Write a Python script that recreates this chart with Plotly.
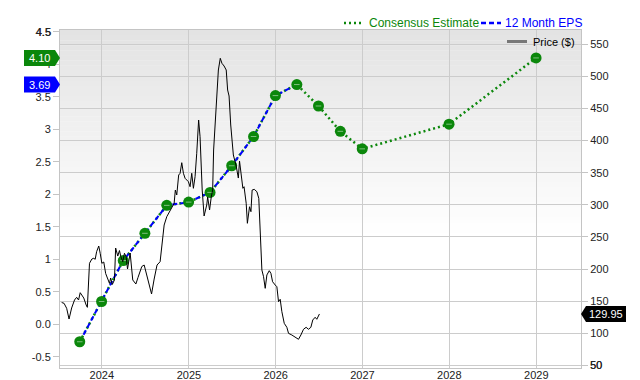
import plotly.graph_objects as go

# ---------------- data ----------------
quarter_dates = ['2023-09-30', '2023-12-31', '2024-03-31', '2024-06-30', '2024-09-30',
                 '2024-12-31', '2025-03-31', '2025-06-30', '2025-09-30', '2025-12-31',
                 '2026-03-31', '2026-06-30', '2026-09-30', '2026-12-31', '2027-12-31',
                 '2028-12-31']
consensus = [-0.27, 0.35, 0.98, 1.40, 1.83, 1.88, 2.03, 2.44, 2.89, 3.52,
             3.69, 3.36, 2.97, 2.70, 3.08, 4.10]
eps_dates = quarter_dates[:11]
eps_12m = [-0.27, 0.35, 0.98, 1.40, 1.83, 1.88, 2.03, 2.44, 2.89, 3.52, 3.69]

price_dates = [
    '2023-07-16', '2023-07-26', '2023-08-06', '2023-08-16', '2023-08-27', '2023-09-08',
    '2023-09-17', '2023-09-25', '2023-10-02', '2023-10-06', '2023-10-17', '2023-10-27',
    '2023-11-01', '2023-11-10', '2023-11-20', '2023-11-28', '2023-12-04', '2023-12-10',
    '2023-12-19', '2023-12-25', '2024-01-01', '2024-01-09', '2024-01-17', '2024-01-26',
    '2024-02-02', '2024-02-07', '2024-02-14', '2024-02-23', '2024-02-28', '2024-03-08',
    '2024-03-15', '2024-03-21', '2024-03-29', '2024-04-05', '2024-04-12', '2024-04-18',
    '2024-04-29', '2024-05-10', '2024-05-23', '2024-06-01', '2024-06-10', '2024-06-17',
    '2024-06-27', '2024-07-07', '2024-07-19', '2024-07-28', '2024-08-08', '2024-08-14',
    '2024-08-20', '2024-09-02', '2024-09-13', '2024-09-19', '2024-09-30', '2024-10-11',
    '2024-10-21', '2024-10-31', '2024-11-05', '2024-11-11', '2024-11-19', '2024-11-25',
    '2024-12-02', '2024-12-09', '2024-12-16', '2024-12-23', '2024-12-30', '2025-01-06',
    '2025-01-13', '2025-01-20', '2025-01-27', '2025-02-03', '2025-02-11', '2025-02-17',
    '2025-02-26', '2025-03-06', '2025-03-17', '2025-03-21', '2025-03-29', '2025-04-05',
    '2025-04-11', '2025-04-15', '2025-04-22', '2025-04-29', '2025-05-05', '2025-05-13',
    '2025-05-20', '2025-05-29', '2025-06-07', '2025-06-13', '2025-06-19', '2025-06-26',
    '2025-07-02', '2025-07-07', '2025-07-19', '2025-07-28', '2025-08-02', '2025-08-09',
    '2025-08-16', '2025-08-21', '2025-08-30', '2025-09-04', '2025-09-13', '2025-09-19',
    '2025-09-24', '2025-10-03', '2025-10-14', '2025-10-22', '2025-10-28', '2025-10-31',
    '2025-11-04', '2025-11-11', '2025-11-18', '2025-11-25', '2025-12-05', '2025-12-12',
    '2025-12-19', '2025-12-30', '2026-01-06', '2026-01-13', '2026-01-20', '2026-01-27',
    '2026-02-06', '2026-02-17', '2026-02-24', '2026-03-10', '2026-03-24', '2026-04-07',
    '2026-04-17', '2026-04-28', '2026-05-09', '2026-05-19', '2026-05-29', '2026-06-06',
    '2026-06-16', '2026-06-23', '2026-07-04']
price = [
    147.8, 146.6, 138.8, 122.1, 139.3, 151.7,
    155.9, 151.7, 163.1, 161.1, 154.8, 143.9,
    140.3, 208.9, 215.6, 216.7, 215.1, 227.0,
    235.8, 224.5, 208.9, 210.9, 193.0, 184.4,
    177.7, 186.0, 175.9, 182.9, 232.7, 220.2,
    228.8, 219.2, 211.4, 224.5, 219.5, 200.0,
    224.9, 182.9, 176.6, 186.8, 198.4, 203.9,
    206.2, 192.2, 175.1, 161.1, 184.4, 198.4,
    206.2, 211.4, 249.8, 268.5, 281.5, 289.3,
    294.5, 302.3, 323.0, 315.3, 346.4, 349.1,
    365.6, 349.1, 341.3, 338.6, 336.0, 328.2,
    349.1, 325.7, 343.8, 380.2, 432.1, 406.1,
    323.0, 282.6, 299.7, 312.1, 291.9, 312.1,
    323.0, 385.4, 432.1, 485.0, 510.0, 528.2,
    520.4, 516.2, 510.0, 478.8, 469.5, 424.3,
    393.1, 377.6, 360.4, 341.7, 368.2, 343.3,
    325.7, 328.2, 302.3, 271.2, 297.0, 289.3,
    323.0, 324.1, 320.4, 310.1, 265.9, 245.2,
    198.4, 188.0, 169.9, 190.7, 197.4, 193.3,
    180.2, 175.1, 172.4, 149.1, 152.8, 133.5,
    115.4, 109.2, 99.8, 97.2, 94.5, 90.5,
    97.2, 106.1, 109.2, 106.1, 109.2, 120.6,
    124.8, 121.7, 129.95]

year_ticks = ['2024-01-01', '2025-01-01', '2026-01-01', '2027-01-01', '2028-01-01', '2029-01-01']
year_labels = ['2024', '2025', '2026', '2027', '2028', '2029']
eps_ticks = [-0.5, 0.0, 0.5, 1.0, 1.5, 2.0, 2.5, 3.0, 3.5, 4.0, 4.5]
eps_tick_text = ['-0.5', '0.0', '0.5', '1', '1.5', '2', '2.5', '3', '3.5', '4', '4.5']
price_ticks = [50, 100, 150, 200, 250, 300, 350, 400, 450, 500, 550]
legend_names = ['Consensus Estimate', '12 Month EPS', 'Price ($)']

# ---------------- style ----------------
GREEN = '#0b870b'
BLUE = '#0000ff'
FONT = 'Liberation Sans, Arial, sans-serif'
TICK_COLOR = '#222222'
W, H = 640, 380
ML, MR, MT, MB = 60, 59, 30, 12
PW, PH = W - ML - MR, H - MT - MB


def px_x(px):
    return (px - ML) / PW


def px_y(py):
    return 1 - (py - MT) / PH


fig = go.Figure()

fig.add_trace(go.Scatter(
    x=price_dates, y=price, yaxis='y2', mode='lines',
    line=dict(color='#000000', width=1),
    name=legend_names[2], showlegend=False, hoverinfo='skip'))

fig.add_trace(go.Scatter(
    x=quarter_dates, y=consensus, mode='lines',
    line=dict(color=GREEN, width=2.5, dash='2px,3px'),
    name=legend_names[0], showlegend=False))

fig.add_trace(go.Scatter(
    x=eps_dates, y=eps_12m, mode='lines',
    line=dict(color=BLUE, width=2, dash='5px,3px'),
    name=legend_names[1], showlegend=False))

fig.add_trace(go.Scatter(
    x=quarter_dates, y=consensus, mode='markers',
    marker=dict(color=GREEN, size=11, line=dict(width=0)),
    showlegend=False))
fig.add_trace(go.Scatter(
    x=quarter_dates, y=consensus, mode='markers',
    marker=dict(symbol='line-ew', size=4, line=dict(color='#7fbf7f', width=1)),
    showlegend=False, hoverinfo='skip'))

# gradient background bands (top of plot area)
shapes = []
n = 40
for i in range(n):
    t = i / n
    g = int(round(0xe3 + (0xff - 0xe3) * t))
    col = 'rgb(%d,%d,%d)' % (g, g, g)
    shapes.append(dict(type='rect', xref='paper', yref='paper',
                       x0=0, x1=1, y0=1 - 0.6 * (i + 1) / n - 0.001, y1=1 - 0.6 * i / n,
                       fillcolor=col, line=dict(width=0), layer='below'))

# value badges
last_cons = consensus[-1]
last_eps = eps_12m[-1]
last_price = price[-1]
shapes.append(dict(type='path', xref='paper', xsizemode='pixel', xanchor=0,
                   yref='y', ysizemode='pixel', yanchor=last_cons,
                   path='M-36,-8 L-5,-8 L0,0 L-5,8 L-36,8 Z',
                   fillcolor=GREEN, line=dict(width=0), layer='above'))
shapes.append(dict(type='path', xref='paper', xsizemode='pixel', xanchor=0,
                   yref='y', ysizemode='pixel', yanchor=last_eps,
                   path='M-36,-8 L-5,-8 L0,0 L-5,8 L-36,8 Z',
                   fillcolor=BLUE, line=dict(width=0), layer='above'))
shapes.append(dict(type='path', xref='paper', xsizemode='pixel', xanchor=1,
                   yref='y2', ysizemode='pixel', yanchor=last_price,
                   path='M0,0 L5,-8 L45,-8 L45,8 L5,8 Z',
                   fillcolor='#000000', line=dict(width=0), layer='above'))

# legend symbols (manual legend)
ly1 = px_y(23)
shapes.append(dict(type='line', xref='paper', yref='paper', x0=px_x(344), x1=px_x(362),
                   y0=ly1, y1=ly1, line=dict(color=GREEN, width=2.5, dash='2px,3px')))
shapes.append(dict(type='line', xref='paper', yref='paper', x0=px_x(481), x1=px_x(501),
                   y0=ly1, y1=ly1, line=dict(color=BLUE, width=2.5, dash='5px,3px')))
ly2 = px_y(41.5)
shapes.append(dict(type='line', xref='paper', yref='paper', x0=px_x(507), x1=px_x(527),
                   y0=ly2, y1=ly2, line=dict(color='#777777', width=3)))

annotations = [
    dict(xref='paper', x=0, xshift=-21, xanchor='center', yref='y', y=last_cons,
         text='%.2f' % last_cons, showarrow=False,
         font=dict(color='white', size=11, family=FONT)),
    dict(xref='paper', x=0, xshift=-21, xanchor='center', yref='y', y=last_eps,
         text='%.2f' % last_eps, showarrow=False,
         font=dict(color='white', size=11, family=FONT)),
    dict(xref='paper', x=1, xshift=25, xanchor='center', yref='y2', y=last_price,
         text='%.2f' % last_price, showarrow=False,
         font=dict(color='white', size=11, family=FONT)),
    dict(xref='paper', x=px_x(367), xanchor='left', yref='paper', y=ly1, yanchor='middle',
         text=legend_names[0], showarrow=False,
         font=dict(color=GREEN, size=12, family=FONT)),
    dict(xref='paper', x=px_x(503), xanchor='left', yref='paper', y=ly1, yanchor='middle',
         text=legend_names[1], showarrow=False,
         font=dict(color=BLUE, size=12, family=FONT)),
    dict(xref='paper', x=px_x(531), xanchor='left', yref='paper', y=ly2, yanchor='middle',
         text=legend_names[2], showarrow=False,
         font=dict(color='#000000', size=11, family=FONT)),
    # end-of-axis tick labels that plotly drops at the very edge of the range
    dict(xref='paper', x=0, xshift=-7, xanchor='right', yref='y', y=eps_ticks[-1],
         text=eps_tick_text[-1], showarrow=False,
         font=dict(color=TICK_COLOR, size=11, family=FONT)),
    dict(xref='paper', x=1, xshift=7, xanchor='left', yref='y2', y=price_ticks[0],
         text=str(price_ticks[0]), showarrow=False,
         font=dict(color=TICK_COLOR, size=11, family=FONT)),
]

fig.update_layout(
    width=W, height=H,
    margin=dict(l=ML, r=MR, t=MT, b=MB),
    paper_bgcolor='white', plot_bgcolor='white',
    font=dict(family=FONT, size=11, color=TICK_COLOR),
    shapes=shapes, annotations=annotations, showlegend=False,
    xaxis=dict(type='date', range=['2023-07-09', '2029-07-08'],
               tickvals=year_ticks, ticktext=year_labels,
               showgrid=True, gridcolor='#cccccc', gridwidth=1,
               showline=True, linecolor='#c4c4c4', mirror=True,
               ticks='', ticklen=0, ticklabelstandoff=-3,
               automargin=False, zeroline=False),
    yaxis=dict(range=[-0.674, 4.53], tickvals=eps_ticks, ticktext=eps_tick_text,
               showgrid=False, zeroline=False, showline=True, linecolor='#c4c4c4',
               ticks='outside', ticklen=6, tickcolor='#c4c4c4', automargin=False,
               ticklabeloverflow='allow'),
    yaxis2=dict(range=[45.8, 572.3], tickvals=price_ticks, overlaying='y', side='right',
                showgrid=True, gridcolor='#cccccc', gridwidth=1, zeroline=False,
                showline=True, linecolor='#c4c4c4',
                ticks='outside', ticklen=6, tickcolor='#c4c4c4', automargin=False,
                ticklabeloverflow='allow'),
)

fig.write_html('out.html')
